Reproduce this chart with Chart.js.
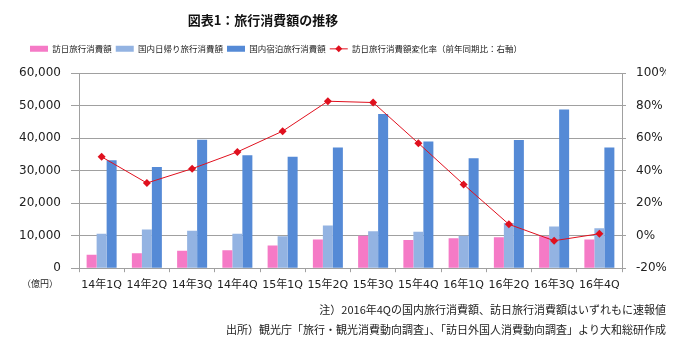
<!DOCTYPE html>
<html>
<head>
<meta charset="utf-8">
<script src="https://cdn.jsdelivr.net/npm/chart.js@4.4.1/dist/chart.umd.min.js"></script>
<style>
html,body{margin:0;padding:0;background:#fff;}
#wrap{width:685px;height:345px;}
</style>
</head>
<body>
<div id="wrap"><canvas id="c" width="685" height="345"></canvas></div>
<script>
// ---- data ----
const categories = ['14年1Q','14年2Q','14年3Q','14年4Q','15年1Q','15年2Q','15年3Q','15年4Q','16年1Q','16年2Q','16年3Q','16年4Q'];
const inboundSpend   = [4100, 4600, 5400, 5500, 7000, 8800, 10000, 8700, 9200, 9500, 9800, 8800];
const domesticDay    = [10600, 11900, 11500, 10600, 9800, 13100, 11400, 11200, 10000, 13900, 12800, 12300];
const domesticStay   = [33200, 31100, 39500, 34700, 34300, 37100, 47400, 39000, 33800, 39400, 48800, 37100];
const inboundChange  = [48.5, 32.4, 41.2, 51.5, 64.3, 82.7, 81.9, 56.9, 31.5, 7.0, -3.1, 1.2];
const leftTicks = [0, 10000, 20000, 30000, 40000, 50000, 60000];
const rightTicks = [-20, 0, 20, 40, 60, 80, 100];
const seriesNames = ['訪日旅行消費額','国内日帰り旅行消費額','国内宿泊旅行消費額','訪日旅行消費額変化率（前年同期比：右軸）'];
const titleText = '図表1：旅行消費額の推移';
const unitText = '（億円）';
const notes = ['注）2016年4Qの国内旅行消費額、訪日旅行消費額はいずれもに速報値','出所）観光庁「旅行・観光消費動向調査」、「訪日外国人消費動向調査」より大和総研作成'];

const CJK = '"Noto Sans CJK JP", "Noto Sans", sans-serif';
const NUM = '"DejaVu Sans", "Noto Sans CJK JP", sans-serif';
const GRID = '#a0a0a0';
const RED = '#e0101e';

const layoutShift = {
  id: 'layoutShift',
  afterLayout(chart) {
    const t = chart.titleBlock;
    if (t) { t.left = 0; t.right = 526; t.width = 526; }
    const lg = chart.legend;
    if (lg) { lg.left = 0; lg.right = 552; lg.width = 552; lg.top -= 10; lg.bottom -= 10; }
  },
  afterDraw(chart) {
    const ctx = chart.ctx;
    const lg = chart.legend;
    if (lg && lg.legendHitBoxes && lg.legendHitBoxes[3]) {
      const hb = lg.legendHitBoxes[3];
      const cx = hb.left + 9, cy = hb.top + hb.height / 2;
      ctx.save();
      ctx.fillStyle = RED;
      ctx.beginPath();
      ctx.moveTo(cx, cy - 3.5); ctx.lineTo(cx + 3.5, cy); ctx.lineTo(cx, cy + 3.5); ctx.lineTo(cx - 3.5, cy);
      ctx.closePath(); ctx.fill();
      ctx.restore();
    }
    const ca = chart.chartArea;
    ctx.save();
    ctx.font = '9px ' + CJK;
    ctx.fillStyle = '#222';
    ctx.textAlign = 'center';
    ctx.textBaseline = 'middle';
    ctx.fillText(unitText, ca.left - 39, ca.bottom + 15);
    ctx.restore();
  }
};

new Chart(document.getElementById('c'), {
  data: {
    labels: categories,
    datasets: [
      { type: 'line', label: seriesNames[3], data: inboundChange, yAxisID: 'y1',
        borderColor: RED, backgroundColor: RED, borderWidth: 1,
        pointStyle: 'rectRot', pointRadius: 4, pointBackgroundColor: RED, pointBorderColor: RED, pointBorderWidth: 0,
        tension: 0, order: 0 },
      { type: 'bar', label: seriesNames[0], data: inboundSpend, yAxisID: 'y', backgroundColor: '#f57ac6', order: 1,
        barPercentage: 1, categoryPercentage: 0.663 },
      { type: 'bar', label: seriesNames[1], data: domesticDay, yAxisID: 'y', backgroundColor: '#93b3e2', order: 1,
        barPercentage: 1, categoryPercentage: 0.663 },
      { type: 'bar', label: seriesNames[2], data: domesticStay, yAxisID: 'y', backgroundColor: '#558ad6', order: 1,
        barPercentage: 1, categoryPercentage: 0.663 }
    ]
  },
  options: {
    responsive: false,
    animation: false,
    devicePixelRatio: 1,
    layout: { padding: { left: 0, right: 19, top: 0, bottom: 0 } },
    plugins: {
      tooltip: { enabled: false },
      title: {
        display: true, text: titleText, color: '#111',
        font: { family: CJK, size: 13, weight: 'bold', lineHeight: 1.2 },
        padding: { top: 12, bottom: 23 }
      },
      subtitle: {
        display: true, position: 'bottom', align: 'end', text: notes, color: '#222',
        font: { family: CJK, size: 11, lineHeight: '20px' },
        padding: { top: 8.8, bottom: 5 }
      },
      legend: {
        display: true, position: 'top',
        labels: {
          font: { family: CJK, size: 8.5 }, color: '#222',
          usePointStyle: true, pointStyleWidth: 18, boxHeight: 6, padding: 4,
          generateLabels(chart) {
            const ds = chart.data.datasets;
            const order = [1, 2, 3, 0];
            return order.map(i => ({
              text: ds[i].label,
              datasetIndex: i,
              fillStyle: ds[i].backgroundColor,
              strokeStyle: ds[i].type === 'line' ? RED : ds[i].backgroundColor,
              lineWidth: ds[i].type === 'line' ? 1 : 0,
              pointStyle: ds[i].type === 'line' ? 'line' : 'rect',
              hidden: false,
              fontColor: '#222'
            }));
          }
        }
      }
    },
    scales: {
      x: {
        offset: true,
        afterFit(s) { s.height = 23; },
        grid: { display: true, drawOnChartArea: false, drawTicks: true, tickLength: 4, color: GRID, offset: true },
        border: { display: true, color: GRID },
        ticks: { font: { family: NUM, size: 11 }, color: '#222', padding: 6, maxRotation: 0, autoSkip: false }
      },
      y: {
        position: 'left', min: leftTicks[0], max: leftTicks[leftTicks.length - 1],
        afterFit(s) { s.width = 79; },
        afterBuildTicks(s) { s.ticks = leftTicks.map(v => ({ value: v })); },
        grid: { color: GRID, tickLength: 8, drawTicks: true },
        border: { display: true, color: GRID },
        ticks: { font: { family: NUM, size: 12 }, color: '#222', padding: 10,
          callback: v => v.toLocaleString('en-US') }
      },
      y1: {
        position: 'right', min: rightTicks[0], max: rightTicks[rightTicks.length - 1],
        afterFit(s) { s.width = 44; },
        afterBuildTicks(s) { s.ticks = rightTicks.map(v => ({ value: v })); },
        grid: { drawOnChartArea: false, color: GRID, tickLength: 4, drawTicks: true },
        border: { display: true, color: GRID },
        ticks: { font: { family: NUM, size: 12 }, color: '#222', padding: 10,
          callback: v => v + '%' }
      }
    }
  },
  plugins: [layoutShift]
});
</script>
</body>
</html>
